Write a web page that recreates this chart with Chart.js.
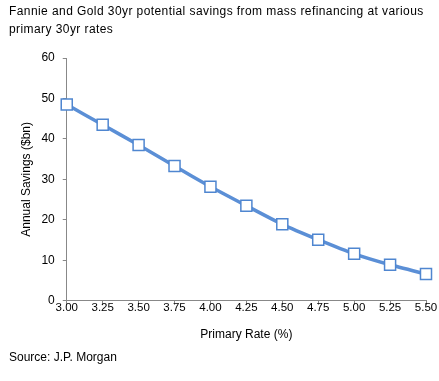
<!DOCTYPE html>
<html>
<head>
<meta charset="utf-8">
<script src="https://cdn.jsdelivr.net/npm/chart.js@4.4.0/dist/chart.umd.min.js"></script>
<style>
  html, body { margin: 0; padding: 0; background: #fff; }
  #wrap { position: relative; width: 439px; height: 381px; font-family: "Liberation Sans", Arial, sans-serif; }
  #chart { position: absolute; left: 0; top: 0; }
  .title { position: absolute; left: 9px; top: 2px; width: 430px; font-size: 12px; line-height: 18px; letter-spacing: 0.42px; color: #000; white-space: nowrap; }
  .source { position: absolute; left: 9px; top: 350px; font-size: 12px; color: #000; }
</style>
</head>
<body>
<div id="wrap">
  <canvas id="chart" width="439" height="381"></canvas>
  <div class="title">Fannie and Gold 30yr potential savings from mass refinancing at various<br>primary 30yr rates</div>
  <div class="source">Source: J.P. Morgan</div>
</div>
<script>
// Primary rate categories (x axis)
const rates = ['3.00', '3.25', '3.50', '3.75', '4.00', '4.25', '4.50', '4.75', '5.00', '5.25', '5.50'];
// Annual savings ($bn)
const savings = [48.5, 43.5, 38.5, 33.3, 28.2, 23.5, 18.9, 15.1, 11.6, 8.9, 6.6];

const lineColor = '#5B8FD6';
const axisColor = '#888888';

document.addEventListener('DOMContentLoaded', function() {
  Chart.defaults.font.family = '"Liberation Sans", Arial, sans-serif';
  Chart.defaults.font.size = 11;
  Chart.defaults.color = '#000';

  const ctx = document.getElementById('chart').getContext('2d');
  new Chart(ctx, {
    type: 'line',
    data: {
      labels: rates,
      datasets: [{
        label: 'Savings',
        data: savings,
        borderColor: lineColor,
        borderWidth: 3.5,
        tension: 0.15,
        pointStyle: 'rect',
        pointRadius: 7.8,
        pointBackgroundColor: '#fff',
        pointBorderColor: '#4F86D0',
        pointBorderWidth: 1.5
      }]
    },
    options: {
      responsive: false,
      animation: false,
      layout: {
        padding: { left: 19, top: 58, right: 13, bottom: 39 }
      },
      plugins: {
        legend: { display: false },
        tooltip: { enabled: false }
      },
      scales: {
        x: {
          offset: false,
          border: { color: axisColor, width: 1 },
          grid: { display: true, drawOnChartArea: false, tickLength: 4, color: axisColor },
          ticks: { padding: -4, maxRotation: 0, autoSkip: false, font: { size: 11.5 } },
          title: { display: true, text: 'Primary Rate (%)', padding: { top: 17, bottom: 0 }, font: { size: 12 } }
        },
        y: {
          min: 0,
          max: 60,
          border: { color: axisColor, width: 1 },
          grid: { display: true, drawOnChartArea: false, tickLength: 4, color: axisColor },
          ticks: { stepSize: 10, padding: 8, font: { size: 12 } },
          title: { display: true, text: 'Annual Savings ($bn)', padding: { top: 0, bottom: 0 }, font: { size: 12 } }
        }
      }
    }
  });
});
</script>
</body>
</html>
